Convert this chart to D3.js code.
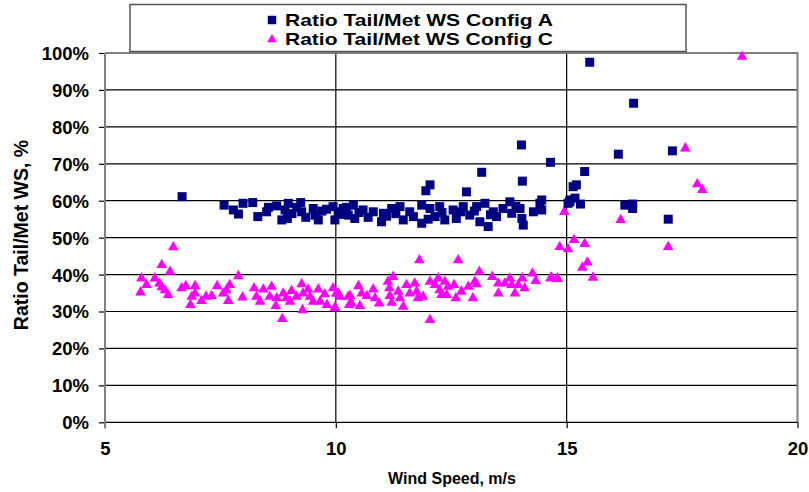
<!DOCTYPE html>
<html><head><meta charset="utf-8">
<script src="https://cdn.jsdelivr.net/npm/d3@7"></script>
<style>
html,body{margin:0;padding:0;background:#fff;}
svg text{font-family:"Liberation Sans",Arial,sans-serif;font-weight:bold;fill:#000;}
</style></head>
<body><svg id="c" width="809" height="492"></svg>
<script>
const seriesNames = ["Ratio Tail/Met WS Config A", "Ratio Tail/Met WS Config C"];
const xTicks = [5, 10, 15, 20];
const yTicks = [0,10,20,30,40,50,60,70,80,90,100];
const xTitle = "Wind Speed, m/s";
const yTitle = "Ratio Tail/Met WS, %";

const xA = [6.67,7.58,7.78,7.89,7.99,8.20,8.31,8.50,8.54,8.72,8.83,8.90,8.97,8.95,9.15,9.24,9.26,9.51,9.55,9.62,9.80,9.94,9.98,10.05,10.23,10.27,10.16,10.38,10.41,10.59,10.81,10.99,11.03,11.21,11.39,11.46,11.60,11.68,11.86,11.86,12.04,12.04,11.95,12.15,12.25,12.36,12.54,12.61,12.76,12.83,12.90,13.05,13.12,13.16,13.23,13.30,13.41,13.48,13.62,13.77,13.81,13.99,14.02,14.04,14.03,14.06,14.28,14.42,14.46,14.46,14.65,15.03,15.07,15.07,15.14,15.21,15.18,15.30,15.39,15.50,16.12,16.26,16.43,16.43,16.45,17.20,17.29,
  9.05,9.35,9.70,10.10,10.50,10.70,11.10,11.30,12.00,12.30,12.70,13.00,13.35,13.90];
const yA = [61.1,58.8,57.5,56.4,59.3,59.5,55.7,57.0,58.2,58.6,54.8,57.5,59.3,55.2,58.2,59.5,57.0,57.9,56.1,54.8,57.7,58.4,54.8,57.0,58.2,56.1,57.9,58.8,55.2,57.5,57.0,54.3,56.6,57.9,58.4,54.8,57.0,55.7,58.8,53.9,57.9,64.3,62.7,55.7,58.4,54.8,57.5,55.2,58.4,62.4,56.1,58.4,54.3,67.7,59.3,53.0,57.0,55.7,57.9,59.7,56.6,57.9,75.1,65.3,55.2,53.4,57.0,59.3,60.2,57.5,70.4,59.3,60.2,59.7,63.8,64.3,60.7,59.1,67.9,97.5,72.6,58.8,59.1,57.9,86.4,55.0,73.5,
  56.5,55.5,57.2,56.3,56.8,55.5,55.8,56.5,55.0,56.8,57.0,57.2,56.2,58.5];

const xC = [6.48,6.23,6.41,5.79,5.90,5.77,6.08,6.18,6.23,6.30,6.37,6.66,6.75,6.88,6.85,6.95,6.95,7.09,7.19,7.31,7.43,7.56,7.63,7.70,7.67,7.89,7.98,8.23,8.28,8.43,8.36,8.61,8.57,8.72,8.70,8.84,8.86,8.93,9.04,9.01,9.15,9.26,9.29,9.28,9.40,9.44,9.51,9.62,9.66,9.76,9.81,9.94,10.01,9.99,10.09,10.27,10.29,
  11.81,12.65,12.04,10.05,9.98,10.31,10.34,10.49,10.56,10.52,10.67,10.81,10.85,10.94,11.13,11.16,11.24,11.17,11.21,11.35,11.39,11.46,11.53,11.60,11.71,11.75,11.78,11.89,12.04,12.15,12.22,12.25,12.29,12.36,12.40,12.43,12.56,12.60,12.72,12.87,12.97,13.01,13.05,13.11,13.39,13.52,13.52,13.66,13.77,13.81,13.88,13.95,14.04,14.09,14.26,14.33,14.65,14.80,14.95,14.85,15.03,15.16,
  18.80,17.57,17.83,17.94,16.17,15.39,17.20,15.45,15.34,15.57,14.67,14.80];
const yC = [47.4,42.6,40.8,39.0,37.2,35.2,39.0,37.6,36.6,35.8,34.5,36.3,36.9,34.0,31.8,36.9,34.9,32.9,34.0,34.2,36.9,34.9,35.8,37.2,32.9,39.6,33.8,36.3,34.0,36.0,32.7,36.7,34.0,33.6,31.5,28.0,34.9,33.6,35.6,32.7,34.0,37.4,34.9,30.4,36.0,34.0,32.7,36.0,32.7,34.7,31.8,36.3,34.9,30.9,34.0,34.0,31.8,
  43.9,43.9,27.7,34.9,31.1,34.2,32.2,36.9,34.9,31.5,34.2,36.0,33.6,32.2,38.1,36.3,39.4,34.2,32.4,35.4,33.6,31.3,37.2,34.9,37.6,35.4,33.6,34.0,38.1,37.2,39.0,35.8,34.5,38.1,34.5,36.7,37.2,33.6,35.4,36.7,33.6,38.1,37.4,40.8,39.4,37.6,34.9,37.6,39.0,37.2,34.9,37.2,39.0,36.3,40.3,38.3,39.0,39.0,57.0,47.5,46.9,49.4,
  99.0,74.2,64.5,62.9,54.8,48.3,47.5,43.3,41.9,39.2,39.2,38.8];

const svg = d3.select("#c");
const L = 105, R = 797.5, T = 53, B = 422.3;
const x = d3.scaleLinear().domain([5, 20]).range([L, R]);
const y = d3.scaleLinear().domain([0, 100]).range([B, T]);

// horizontal gridlines
svg.append("g").selectAll("line").data(yTicks.filter(d => d > 0 && d < 100)).join("line")
  .attr("x1", L).attr("x2", R).attr("y1", d => y(d)).attr("y2", d => y(d))
  .attr("stroke", "#000").attr("stroke-width", 1.2);
// vertical gridlines
svg.append("g").selectAll("line").data(xTicks.filter(d => d > 5 && d < 20)).join("line")
  .attr("x1", d => x(d)).attr("x2", d => x(d)).attr("y1", T).attr("y2", B)
  .attr("stroke", "#000").attr("stroke-width", 1.2);
// plot border top/right grey
svg.append("path").attr("d", `M${L},${T}H${R}V${B}`).attr("fill", "none")
  .attr("stroke", "#808080").attr("stroke-width", 2);

// Y axis
const yAxis = d3.axisLeft(y).tickValues(yTicks).tickFormat(d => d + "%").tickSize(6).tickPadding(10);
const gy = svg.append("g").attr("transform", `translate(${L},0)`).call(yAxis);
gy.select(".domain").remove();
gy.selectAll(".tick line").attr("stroke", "#000").attr("stroke-width", 1.2);
gy.selectAll("text").style("font-size", "18.5px").attr("dy", "0.35em");
// X axis
const xAxis = d3.axisBottom(x).tickValues(xTicks).tickSize(6).tickPadding(14);
const gx = svg.append("g").attr("transform", `translate(0,${B})`).call(xAxis);
gx.select(".domain").remove();
gx.selectAll(".tick line").attr("stroke", "#000").attr("stroke-width", 1.2);
gx.selectAll("text").style("font-size", "18.5px");
// axis lines
svg.append("line").attr("x1", L).attr("x2", R).attr("y1", B).attr("y2", B).attr("stroke", "#000").attr("stroke-width", 1.2);
svg.append("line").attr("x1", L).attr("x2", L).attr("y1", T).attr("y2", B + 6).attr("stroke", "#808080").attr("stroke-width", 2);

// points
const sq = d3.symbol().type(d3.symbolSquare).size(81);
const tri = d3.symbol().type(d3.symbolTriangle).size(50);
svg.append("g").selectAll("path").data(xC.map((v, i) => [v, yC[i]])).join("path")
  .attr("d", tri).attr("transform", d => `translate(${x(d[0])},${y(d[1])})`).attr("fill", "#ff00ff");
svg.append("g").selectAll("path").data(xA.map((v, i) => [v, yA[i]])).join("path")
  .attr("d", sq).attr("transform", d => `translate(${x(d[0])},${y(d[1])})`).attr("fill", "#000080");

// titles
svg.append("text").attr("x", 452).attr("y", 484).attr("text-anchor", "middle")
  .style("font-size", "16px").text(xTitle);
svg.append("text").attr("transform", "translate(28,235) rotate(-90)").attr("text-anchor", "middle")
  .style("font-size", "19.5px").text(yTitle);

// legend
const lg = svg.append("g");
lg.append("rect").attr("x", 130).attr("y", 4.5).attr("width", 556).attr("height", 47)
  .attr("fill", "#fff").attr("stroke", "#555").attr("stroke-width", 1.5);
lg.append("path").attr("d", d3.symbol().type(d3.symbolSquare).size(72)()).attr("transform", "translate(272,20)").attr("fill", "#000080");
lg.append("path").attr("d", d3.symbol().type(d3.symbolTriangle).size(40)()).attr("transform", "translate(272,39.5)").attr("fill", "#ff00ff");
lg.append("text").attr("x", 285).attr("y", 25.5).style("font-size", "17px")
  .attr("textLength", 268).attr("lengthAdjust", "spacingAndGlyphs").text(seriesNames[0]);
lg.append("text").attr("x", 285).attr("y", 44.5).style("font-size", "17px")
  .attr("textLength", 268).attr("lengthAdjust", "spacingAndGlyphs").text(seriesNames[1]);
</script></body></html>
